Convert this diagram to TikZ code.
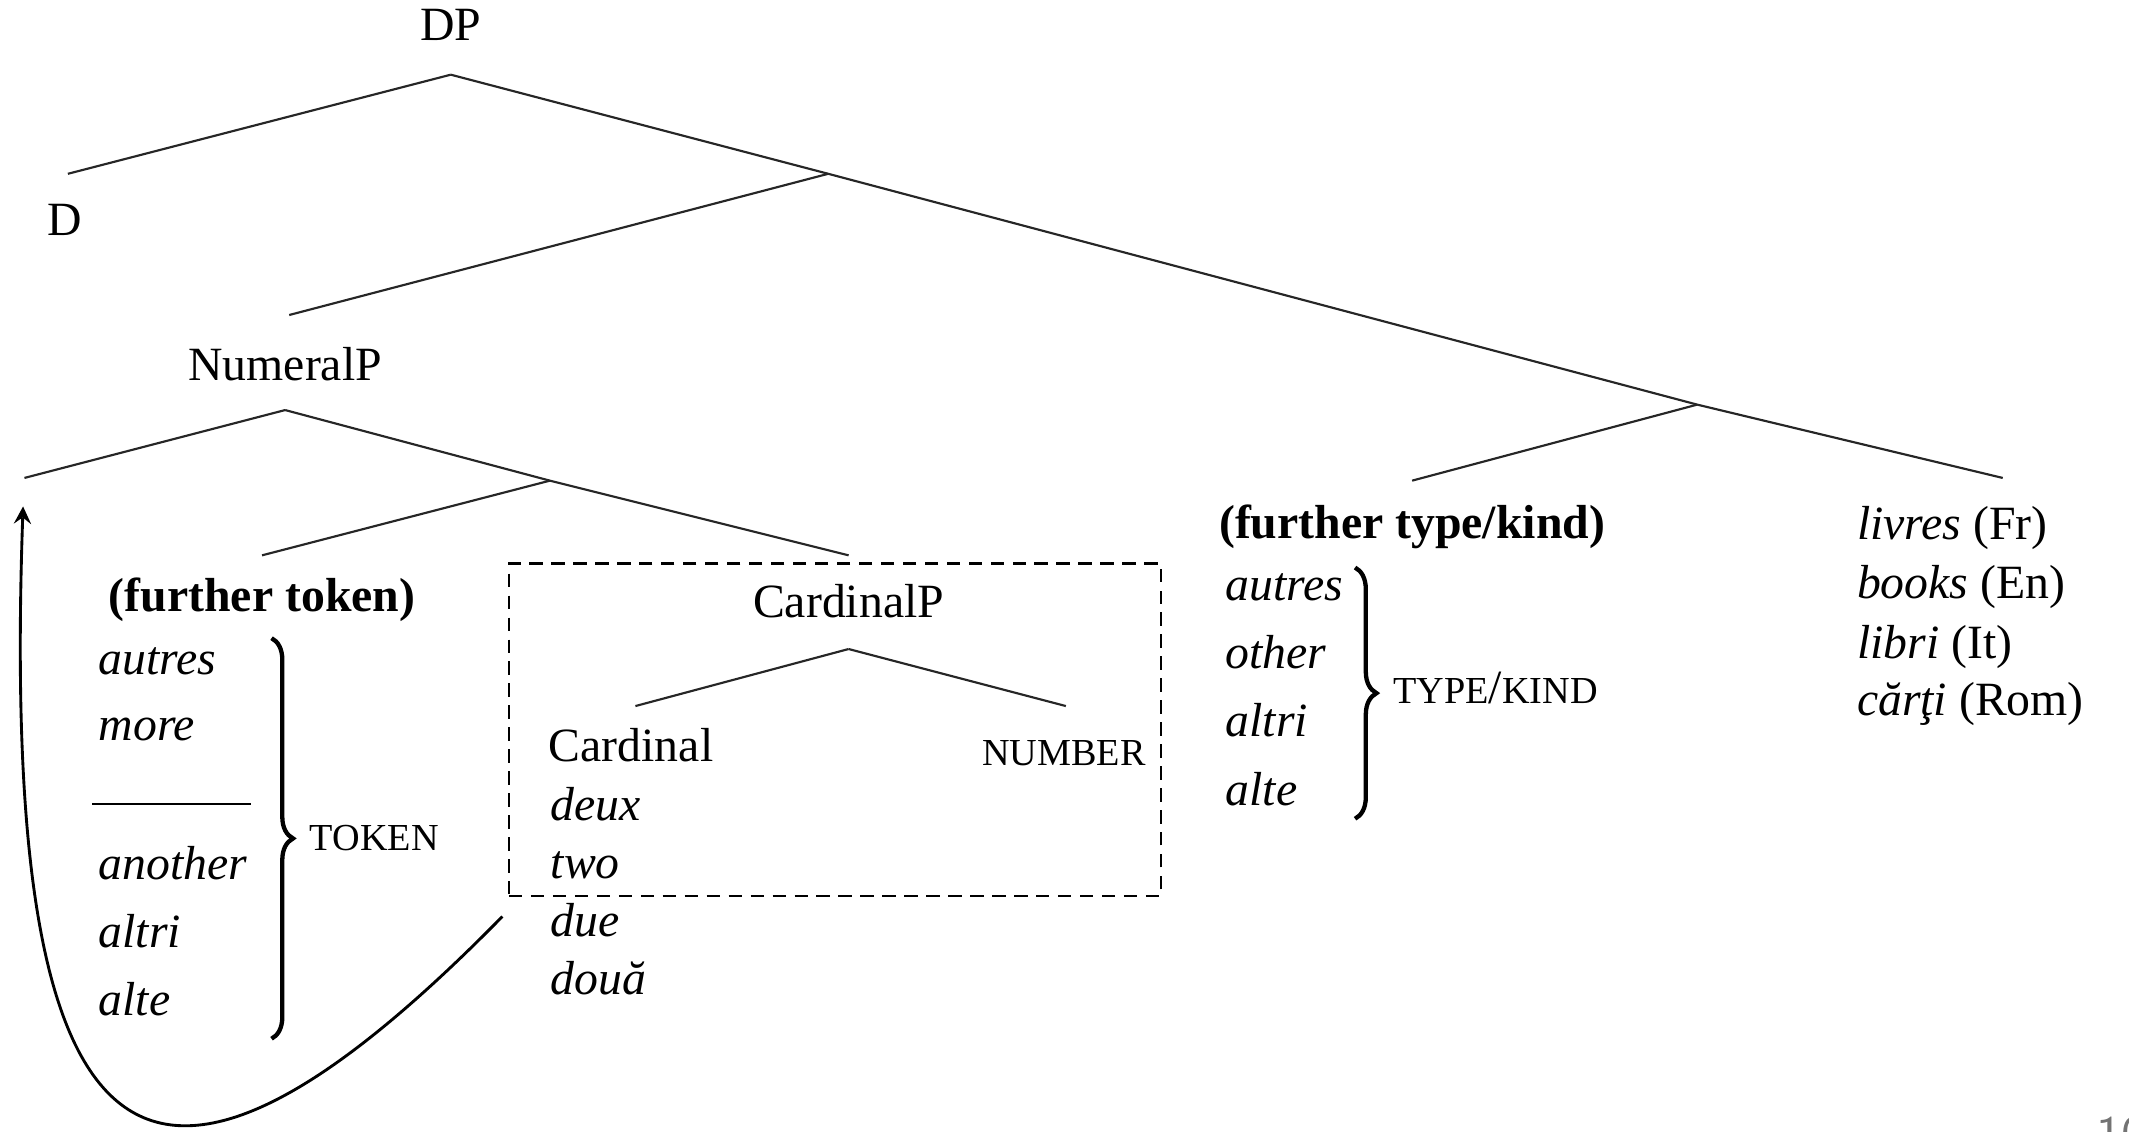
\documentclass[tikz,border=0pt]{standalone}
\usepackage{fontspec}
\setmainfont{Liberation Serif}
\usetikzlibrary{decorations.pathreplacing,positioning}
\tikzset{lab/.style={inner sep=1pt,font=\fontsize{10}{12}\selectfont}}
\tikzset{word/.style={inner sep=0pt,anchor=mid west,font=\fontsize{10}{12}\selectfont\itshape}}
\tikzset{branch/.style={line width=0.45pt,draw=black!85}}
\tikzset{bigbrace/.style={decorate,decoration={brace,amplitude=4.5pt},line width=0.9pt}}
\tikzset{cardbox/.style={draw,dashed,dash pattern=on 2.8pt off 1.8pt,line width=0.5pt}}
\newcommand{\fsc}[1]{{\fontsize{8}{10}\selectfont #1}}

\begin{document}
\begin{tikzpicture}[x=0.01cm,y=-0.01cm]
    \useasboundingbox (0,0) rectangle (1568,833);
    % labels of the tree
    \node[lab] (dp) at (332,18) {DP};
    \node[lab] (d) at (48,162) {D};
    \node[lab] (nump) at (210,268) {NumeralP};
    \node[lab] (ftok) at (193,442) {\textbf{(further token)}};
    \node[lab] (cardp) at (625,443) {CardinalP};
    \node[lab,anchor=mid west] (card) at (400,553) {Cardinal};
    \node[lab,anchor=mid east] (numb) at (848,556) {\fsc{NUMBER}};
    \node[lab] (ftype) at (1040,388) {\textbf{(further type/kind)}};
    % branch points
    \coordinate (dptop) at (332,55);
    \coordinate (dend) at (50,128);
    \coordinate (xa) at (610,128);
    \coordinate (npend) at (213,232);
    \coordinate (xb) at (1250,298);
    \coordinate (ftend) at (1040,354);
    \coordinate (nend) at (1475,352);
    \coordinate (nptop) at (210,302);
    \coordinate (npleft) at (18,352);
    \coordinate (xc) at (405,354);
    \coordinate (tkend) at (193,409);
    \coordinate (cpend) at (625,409);
    \coordinate (cptop) at (625,478);
    \coordinate (cdend) at (468,520);
    \coordinate (nbend) at (785,520);
    \draw[branch] (dptop) -- (dend);
    \draw[branch] (dptop) -- (xa) -- (xb) -- (nend);
    \draw[branch] (xa) -- (npend);
    \draw[branch] (xb) -- (ftend);
    \draw[branch] (nptop) -- (npleft);
    \draw[branch] (nptop) -- (xc) -- (cpend);
    \draw[branch] (xc) -- (tkend);
    \draw[branch] (cptop) -- (cdend);
    \draw[branch] (cptop) -- (nbend);
    % token list
    \node[word] (tk1) at (72,489) {autres};
    \node[word] (tk2) at (72,537) {more};
    \coordinate (rulel) at (68,592);
    \coordinate (ruler) at (185,592);
    \draw[line width=0.5pt] (rulel) -- (ruler);
    \foreach \w [count=\i from 3] in {another,altri,alte}
      \node[word] (tk\i) at (72,640+50*\i-150) {\w};
    \coordinate (tkbt) at (200,470);
    \coordinate (tkbb) at (200,765);
    \draw[bigbrace] (tkbt) -- (tkbb);
    \node[lab,anchor=mid west] (token) at (224,618) {\fsc{TOKEN}};
    % cardinal list and box
    \foreach \w [count=\i] in {deux,two,due,două}
      \node[word] (cd\i) at (405,596+42.7*\i-42.7) {\w};
    \node[cardbox,minimum width=4.8cm,minimum height=2.45cm] (cbox) at (615,537.5) {};
    % type/kind list
    \foreach \w [count=\i] in {autres,other,altri,alte}
      \node[word] (ty\i) at (902,434+50.3*\i-50.3) {\w};
    \coordinate (tybt) at (998,418);
    \coordinate (tybb) at (998,603);
    \draw[bigbrace] (tybt) -- (tybb);
    \node[lab,anchor=mid west] (tykind) at (1022,510) {\fsc{TYPE}/\fsc{KIND}};
    % nouns
    \node[word] (n1) at (1367,389) {livres \upshape(Fr)};
    \node[word] (n2) at (1367,433) {books \upshape(En)};
    \node[word] (n3) at (1367,477) {libri \upshape(It)};
    \node[word] (n4) at (1367,519) {cărţi \upshape(Rom)};
    % movement arrow
    \coordinate (mvstart) at (370,675);
    \coordinate (mvend) at (17,373);
    \draw[->,>=stealth,line width=0.6pt] (mvstart) .. controls (100,950) and (0,860) .. (mvend);
    % slide number, cut at the page edge
    \node[inner sep=0pt,anchor=north west,text=black!55,font=\sffamily\fontsize{11}{13}\selectfont] (pgno) at (1543,822) {10};
\end{tikzpicture}
\end{document}
